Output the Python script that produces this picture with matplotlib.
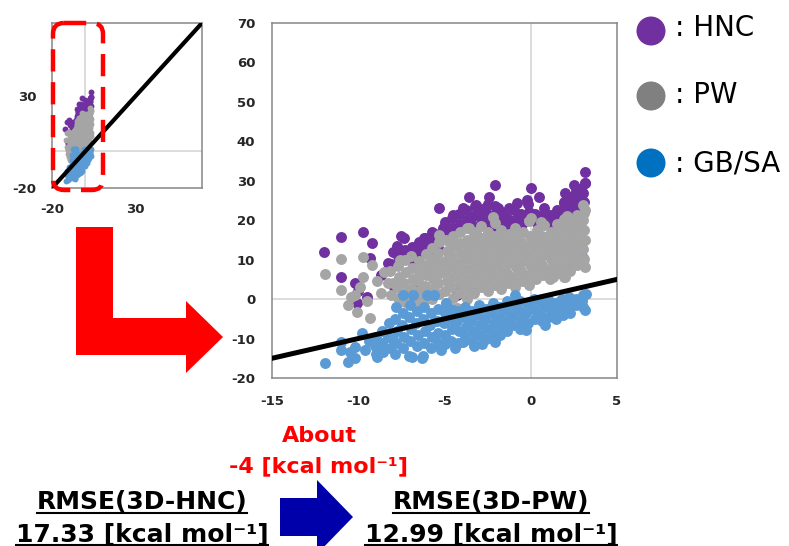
"""
Solvation free energy scatter: 3D-HNC / 3D-PW / GB/SA vs. experiment
"""
#------------------------------------------------------------------------------
# Libraries
#------------------------------------------------------------------------------

import numpy as np
import matplotlib.pyplot as plt
from matplotlib.patches import FancyBboxPatch, Polygon, Circle

#------------------------------------------------------------------------------
# Data
#------------------------------------------------------------------------------

hnc_pts = [
    (-8.1, 9.0), (-8.0, 12.0), (-7.7, 11.0), (-7.75, 13.5), (-7.3, 12.5), (-7.35, 15.5),
    (-6.9, 13.0), (-6.95, 10.0), (-6.5, 12.0), (-6.45, 14.5), (-6.1, 13.5), (-6.15, 15.5),
    (-5.7, 15.0), (-5.75, 17.0), (-5.3, 16.5), (-5.35, 13.0), (-4.9, 17.0), (-4.95, 19.5),
    (-4.5, 18.0), (-4.55, 20.5), (-4.1, 19.0), (-4.15, 21.5), (-4.1, 3.0), (-3.7, 20.0),
    (-3.75, 22.5), (-3.3, 18.5), (-3.35, 21.0), (-3.25, 23.5), (-2.9, 20.5), (-2.95, 22.5),
    (-2.5, 19.0), (-2.55, 21.5), (-2.45, 24.0), (-2.1, 21.5), (-2.15, 18.0), (-2.05, 23.5),
    (-1.7, 19.5), (-1.75, 22.0), (-1.3, 18.5), (-1.35, 20.5), (-1.25, 23.0), (-0.9, 20.0),
    (-0.95, 22.5), (-0.5, 19.0), (-0.55, 21.5), (-0.1, 22.0), (-0.15, 24.0), (0.3, 19.5),
    (0.25, 21.5), (0.7, 21.0), (0.75, 23.0), (1.1, 19.0), (1.15, 20.5), (1.5, 21.0),
    (1.55, 22.5), (1.9, 22.5), (1.95, 24.5), (2.3, 21.5), (2.35, 23.5), (2.25, 26.0),
    (2.7, 23.0), (2.75, 25.0), (2.65, 27.5), (3.1, 24.5), (3.05, 27.0), (3.15, 29.5),
    (-12.0, 12.0), (-11.0, 15.8), (-11.0, 5.7), (-9.7, 17.0), (-9.2, 14.1), (-10.2, 4.0),
    (-10.1, -1.1), (-9.3, 10.3), (-8.7, 6.1), (-8.3, 9.1), (-7.5, 16.0), (-7.6, 12.5),
    (-6.9, 13.3), (-6.2, 15.4), (-5.8, 12.5), (-5.3, 23.0), (-5.1, 18.0), (-4.5, 21.3),
    (-3.9, 23.0), (-3.6, 26.0), (-3.2, 23.9), (-2.65, 23.0), (-2.1, 28.9), (-2.4, 26.0),
    (-1.9, 23.0), (-0.8, 24.3), (-0.2, 25.1), (0.0, 28.1), (0.5, 26.0), (1.1, 21.3),
    (2.0, 26.8), (2.5, 28.9), (2.85, 28.0), (3.15, 32.3), (3.15, 29.5), (3.05, 10.3),
    (1.9, 24.3), (1.7, 7.4), (-10.0, 2.0), (-9.5, 0.5), (-4.3, 1.0), (-3.3, 2.5),
    (-1.5, 5.5), (0.9, 7.0), (2.2, 8.5), (-6.6, 4.5), (-7.9, 3.0),
]

pw_pts = [
    (-8.1, 1.0), (-8.0, 4.2), (-8.15, 7.1),
    (-7.7, 0.3), (-7.75, 3.1), (-7.65, 5.6), (-7.7, 8.4),
    (-7.3, 1.6), (-7.35, 4.1), (-7.25, 6.9), (-7.3, 9.8),
    (-6.9, 0.1), (-6.95, 2.6), (-6.85, 5.2), (-6.9, 7.9), (-6.95, 11.0),
    (-6.5, -0.6), (-6.45, 2.1), (-6.55, 4.6), (-6.5, 7.1), (-6.45, 9.6),
    (-6.1, 1.1), (-6.15, 3.4), (-6.05, 6.1), (-6.1, 8.6), (-6.1, 11.4),
    (-5.7, 0.1), (-5.75, 2.6), (-5.65, 5.1), (-5.7, 7.6), (-5.75, 10.1), (-5.7, 12.9),
    (-5.3, 1.4), (-5.35, 4.1), (-5.25, 6.6), (-5.3, 9.1), (-5.35, 11.6), (-5.3, 14.4),
    (-4.9, -1.1), (-4.95, 2.1), (-4.85, 4.6), (-4.9, 7.1), (-4.95, 9.6), (-4.85, 12.1), (-4.9, 15.0),
    (-4.5, 0.4), (-4.55, 3.1), (-4.45, 5.6), (-4.5, 8.1), (-4.55, 10.6), (-4.45, 13.1), (-4.5, 15.9),
    (-4.1, -2.4), (-4.15, 1.6), (-4.05, 4.1), (-4.1, 6.6), (-4.15, 9.1), (-4.05, 11.6), (-4.1, 14.1), (-4.1, 17.0),
    (-3.7, 0.1), (-3.75, 2.6), (-3.65, 5.1), (-3.7, 7.6), (-3.75, 10.1), (-3.65, 12.6), (-3.7, 15.1), (-3.7, 18.1),
    (-3.3, 1.6), (-3.35, 4.1), (-3.25, 6.6), (-3.3, 9.1), (-3.35, 11.6), (-3.25, 14.1), (-3.3, 16.6),
    (-2.9, 3.1), (-2.95, 5.6), (-2.85, 8.1), (-2.9, 10.6), (-2.95, 13.1), (-2.85, 15.6), (-2.9, 18.6),
    (-2.5, 2.1), (-2.55, 4.6), (-2.45, 7.1), (-2.5, 9.6), (-2.55, 12.1), (-2.45, 14.6), (-2.5, 17.1),
    (-2.1, 3.6), (-2.15, 6.1), (-2.05, 8.6), (-2.1, 11.1), (-2.15, 13.6), (-2.05, 16.1), (-2.1, 19.4),
    (-1.7, 2.6), (-1.75, 5.1), (-1.65, 7.6), (-1.7, 10.1), (-1.75, 12.6), (-1.65, 15.1), (-1.7, 17.6),
    (-1.3, 4.1), (-1.35, 6.6), (-1.25, 9.1), (-1.3, 11.6), (-1.35, 14.1), (-1.25, 16.6),
    (-0.9, 3.1), (-0.95, 5.6), (-0.85, 8.1), (-0.9, 10.6), (-0.95, 13.1), (-0.85, 15.6), (-0.9, 18.1),
    (-0.5, 4.6), (-0.55, 7.1), (-0.45, 9.6), (-0.5, 12.1), (-0.55, 14.6), (-0.45, 17.1),
    (-0.1, 3.6), (-0.15, 6.1), (-0.05, 8.6), (-0.1, 11.1), (-0.15, 13.6), (-0.05, 16.1), (-0.1, 19.9),
    (0.3, 5.1), (0.25, 7.6), (0.35, 10.1), (0.3, 12.6), (0.25, 15.1), (0.35, 17.6),
    (0.7, 6.1), (0.65, 8.6), (0.75, 11.1), (0.7, 13.6), (0.65, 16.1), (0.75, 18.9),
    (1.1, 5.1), (1.05, 7.6), (1.15, 10.1), (1.1, 12.6), (1.05, 15.1), (1.15, 17.1),
    (1.5, 6.6), (1.45, 9.1), (1.55, 11.6), (1.5, 14.1), (1.45, 16.6), (1.55, 19.1),
    (1.9, 5.6), (1.85, 8.1), (1.95, 10.6), (1.9, 13.1), (1.85, 15.6), (1.95, 18.1), (1.9, 20.4),
    (2.3, 7.1), (2.25, 9.6), (2.35, 12.1), (2.3, 14.6), (2.25, 17.1), (2.35, 19.6),
    (2.7, 8.6), (2.65, 11.1), (2.75, 13.6), (2.7, 16.1), (2.65, 18.6), (2.75, 21.1),
    (3.1, 10.1), (3.05, 12.6), (3.15, 15.1), (3.1, 17.6), (3.05, 20.1), (3.15, 22.6),
    (-11.9, 6.4), (-11.0, 10.1), (-11.0, 2.3), (-10.2, 1.0), (-10.1, -3.2), (-9.7, 10.7),
    (-9.2, 8.6), (-9.3, -4.9), (-9.7, 5.7), (-9.5, -0.5), (-8.7, 1.5), (-8.3, 4.0),
    (-7.6, 9.9), (-7.3, -0.7), (-6.2, -0.2), (-5.3, 16.3), (-4.6, 14.6), (-4.3, -2.3),
    (-3.6, 18.0), (-3.2, 17.1), (-2.2, 20.9), (0.0, 20.5), (0.6, 19.6), (1.3, 5.7),
    (2.0, 5.7), (2.1, 21.0), (2.7, 21.3), (3.05, 23.9), (3.1, 21.8), (3.14, 8.2),
    (2.9, 18.4), (-10.4, 0.5), (-9.9, 3.0), (-8.9, 4.5), (-8.5, 7.0), (-10.6, -1.5),
]

gbsa_pts = [
    (-9.0, -9.5), (-9.05, -12.0), (-8.95, -14.0),
    (-8.6, -8.0), (-8.65, -11.0), (-8.55, -13.5),
    (-8.2, -6.0), (-8.25, -9.5), (-8.15, -12.5),
    (-7.8, -2.0), (-7.85, -5.0), (-7.75, -8.0), (-7.8, -11.0), (-7.85, -14.0),
    (-7.4, -3.5), (-7.45, -6.5), (-7.35, -9.5), (-7.4, -12.5),
    (-7.0, -1.5), (-7.05, -4.5), (-6.95, -7.5), (-7.0, -10.5), (-7.05, -14.5),
    (-6.6, -3.0), (-6.65, -6.0), (-6.55, -9.0), (-6.6, -12.0),
    (-6.2, -2.0), (-6.25, -5.0), (-6.15, -8.0), (-6.2, -11.0), (-6.25, -14.5),
    (-5.8, -3.5), (-5.85, -6.5), (-5.75, -9.5), (-5.8, -12.5),
    (-5.4, -2.5), (-5.45, -5.5), (-5.35, -8.5), (-5.4, -11.0),
    (-5.0, -3.5), (-5.05, -6.0), (-4.95, -9.0), (-5.0, -11.5),
    (-4.6, -2.5), (-4.65, -5.0), (-4.55, -7.5), (-4.6, -10.5),
    (-4.2, -3.0), (-4.25, -5.5), (-4.15, -8.0), (-4.2, -11.0),
    (-3.8, -2.0), (-3.85, -4.5), (-3.75, -7.0), (-3.8, -9.5),
    (-3.4, -3.0), (-3.45, -5.5), (-3.35, -8.0), (-3.4, -10.5),
    (-3.0, -1.5), (-3.05, -4.0), (-2.95, -6.5), (-3.0, -9.0),
    (-2.6, -2.5), (-2.65, -5.0), (-2.55, -7.5), (-2.6, -10.0),
    (-2.2, -1.0), (-2.25, -3.5), (-2.15, -6.0), (-2.2, -8.5),
    (-1.8, -2.0), (-1.85, -4.5), (-1.75, -7.0), (-1.8, -9.0),
    (-1.4, -0.5), (-1.45, -3.0), (-1.35, -5.5), (-1.4, -8.0),
    (-1.0, -1.5), (-1.05, -4.0), (-0.95, -6.5),
    (-0.6, -0.5), (-0.65, -3.0), (-0.55, -5.5), (-0.6, -7.5),
    (-0.2, -1.0), (-0.25, -3.5), (-0.15, -6.0),
    (0.2, 0.0), (0.15, -2.5), (0.25, -5.0),
    (0.6, -1.0), (0.55, -3.5), (0.65, -5.5),
    (1.0, 0.0), (0.95, -2.0), (1.05, -4.5),
    (1.4, -1.0), (1.35, -3.0), (1.45, -5.0),
    (1.8, 0.0), (1.75, -2.0), (1.85, -4.0),
    (2.2, 0.5), (2.15, -1.5), (2.25, -3.5),
    (2.6, 0.0), (2.65, -1.5),
    (3.0, 1.0), (2.95, -0.5), (3.05, -2.0),
    (-11.9, -16.1), (-11.0, -12.9), (-11.0, -10.8), (-10.6, -15.9), (-10.2, -15.0),
    (-10.2, -12.1), (-9.8, -8.7), (-9.6, -12.9), (-8.9, -14.6), (-6.9, -14.6),
    (-6.3, -15.0), (-6.0, 1.0), (-7.4, 1.0), (-6.8, 1.0), (-5.6, 1.0), (-4.9, -1.0),
    (-2.1, -10.8), (-0.9, 1.0), (3.15, -2.8), (3.2, 1.2), (2.5, -0.9), (-3.9, -10.8),
    (-3.3, -12.0), (-9.4, -10.5), (-10.5, -13.5), (-8.0, -10.0), (-0.3, -7.8),
    (0.8, -6.5), (-5.2, -13.0), (-4.4, -12.5), (-2.8, -11.5), (1.7, -0.4),
]

hnc_x, hnc_y = np.array(hnc_pts).T
pw_x, pw_y = np.array(pw_pts).T
gbsa_x, gbsa_y = np.array(gbsa_pts).T

series = [
    ("HNC", hnc_x, hnc_y, "#7030A0", "#7030A0"),
    ("PW", pw_x, pw_y, "#A5A5A5", "#808080"),
    ("GB/SA", gbsa_x, gbsa_y, "#5B9BD5", "#0070C0"),
]

main_xticks = [-15, -10, -5, 0, 5]
main_yticks = [-20, -10, 0, 10, 20, 30, 40, 50, 60, 70]
inset_ticks = [-20, 30]

rmse_labels = ["RMSE(3D-HNC)", "RMSE(3D-PW)"]
rmse_values = ["17.33 [kcal mol\u207b\u00b9]", "12.99 [kcal mol\u207b\u00b9]"]
delta_text = ["About", "-4 [kcal mol\u207b\u00b9]"]

#------------------------------------------------------------------------------
# Figure
#------------------------------------------------------------------------------

plt.rcParams['font.family'] = ['DejaVu Sans']
plt.rcParams['axes.unicode_minus'] = False

W, H = 789, 546
fig = plt.figure(figsize=(W / 100, H / 100), dpi=100)

frame_col = "#868686"
grid_col = "#D9D9D9"
tick_col = "#262626"


def style_axes(ax, pad):
    for sp in ax.spines.values():
        sp.set_color(frame_col)
        sp.set_linewidth(1.1)
    ax.tick_params(length=0, pad=pad, labelsize=9.5, labelcolor=tick_col)
    for lab in ax.get_xticklabels() + ax.get_yticklabels():
        lab.set_fontweight("bold")
    ax.axvline(0, color=grid_col, lw=1.3, zorder=0)
    ax.axhline(0, color=grid_col, lw=1.3, zorder=0)


# main scatter
ax = fig.add_axes([272 / W, 1 - 378 / H, 345 / W, 355 / H])
for name, x, y, c, _ in series:
    ax.scatter(x, y, s=62, color=c, linewidths=0, zorder=2)
ax.plot([-20, 70], [-20, 70], color="black", lw=3.6, zorder=3)
ax.set_xlim(-15, 5)
ax.set_ylim(-20, 70)
ax.set_xticks(main_xticks)
ax.set_yticks(main_yticks)
style_axes(ax, pad=12)

# small overview
ax2 = fig.add_axes([52 / W, 1 - 188 / H, 150 / W, 165 / H])
for name, x, y, c, _ in series:
    ax2.scatter(x, y, s=18, color=c, linewidths=0, zorder=2)
ax2.plot([-20, 70], [-20, 70], color="black", lw=3.0, zorder=3)
ax2.set_xlim(-20, 70)
ax2.set_ylim(-20, 70)
ax2.set_xticks(inset_ticks)
ax2.set_yticks(inset_ticks)
style_axes(ax2, pad=11)

#------------------------------------------------------------------------------
# Overlay in pixel units: arrows, zoom box, legend, texts
#------------------------------------------------------------------------------

ov = fig.add_axes([0, 0, 1, 1], zorder=10)
ov.set_xlim(0, W)
ov.set_ylim(H, 0)
ov.axis("off")

box = FancyBboxPatch((53, 23), 50, 167, boxstyle="round,pad=0,rounding_size=11",
                     fill=False, edgecolor="#FF0000", lw=3.2,
                     linestyle=(0, (5, 2.4)))
ov.add_patch(box)

l_arrow = [(76, 227), (113, 227), (113, 318), (186, 318), (186, 301), (223, 337),
           (186, 373), (186, 355), (76, 355)]
ov.add_patch(Polygon(l_arrow, closed=True, color="#FF0000", lw=0))

b_arrow = [(280, 498), (317, 498), (317, 480), (353, 517), (317, 554), (317, 536),
           (280, 536)]
ov.add_patch(Polygon(b_arrow, closed=True, color="#0000AA", lw=0))

# legend
for (name, _, _, _, lc), cy, by in zip(series, [31, 96, 163], [36, 103, 171]):
    ov.add_patch(Circle((651, cy), 14.5, color=lc, lw=0))
    ov.text(675, by, ": " + name, fontsize=20, va="baseline", ha="left", color="black")

# red difference text
ov.text(319, 442, delta_text[0], fontsize=16, fontweight="bold", color="#FF0000",
        ha="center", va="baseline")
ov.text(319, 472, delta_text[1], fontsize=16, fontweight="bold", color="#FF0000",
        ha="center", va="baseline")

# RMSE blocks
texts = []
for cx, lab, val in zip([142, 491], rmse_labels, rmse_values):
    texts.append((ov.text(cx, 509, lab, fontsize=18, fontweight="bold",
                          ha="center", va="baseline"), 513))
    texts.append((ov.text(cx, 542, val, fontsize=18, fontweight="bold",
                          ha="center", va="baseline"), 545))

fig.canvas.draw()
inv = ov.transData.inverted()
for t, uy in texts:
    bb = t.get_window_extent()
    x0, _ = inv.transform((bb.x0, bb.y0))
    x1, _ = inv.transform((bb.x1, bb.y0))
    ov.plot([x0, x1], [uy, uy], color="black", lw=1.5)

fig.savefig("out.png", dpi=100)
